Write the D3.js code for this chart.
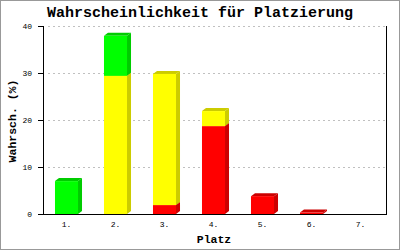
<!DOCTYPE html>
<html>
<head>
<meta charset="utf-8">
<script src="https://cdn.jsdelivr.net/npm/d3@7"></script>
<style>
  body { margin: 0; background: #fff; }
  svg { display: block; }
  text { font-family: "Liberation Mono", "DejaVu Sans Mono", monospace; }
</style>
</head>
<body>
<div id="main"></div>
<script>
// data
var places = ["1.", "2.", "3.", "4.", "5.", "6.", "7."];
var red    = [0, 0, 1.9, 18.7, 3.8, 0.3, 0];
var yellow = [0, 29.4, 27.9, 3.2, 0, 0, 0];
var green  = [7.0, 8.5, 0, 0, 0, 0, 0];
var yTicks = [0, 10, 20, 30, 40];

var w = 400, h = 250;
var plotLeft = 43, plotRight = 386, plotTop = 26, plotBottom = 214;
var depthX = 4, depthY = 3;

var series = [
  {values: red, front: "#ff0000", side: "#cc0000"},
  {values: yellow, front: "#ffff00", side: "#cccc00"},
  {values: green, front: "#00ff00", side: "#00cc00"}
];

var svg = d3.select("#main")
  .append("svg")
  .attr("width", w)
  .attr("height", h);

// frame
svg.append("rect")
  .attr("x", 0.5).attr("y", 0.5)
  .attr("width", w - 1).attr("height", h - 1)
  .attr("fill", "#fff")
  .attr("stroke", "#999");

var x = d3.scaleBand()
  .domain(places)
  .range([plotLeft - 1, plotRight - 1])
  .paddingInner(0.53)
  .paddingOuter(0.265);

var y = d3.scaleLinear()
  .domain([0, 40])
  .range([plotBottom, plotTop]);

// grid
svg.selectAll("line.grid")
  .data(yTicks.filter(function(d) { return d > 0; }))
  .enter()
  .append("line")
  .attr("class", "grid")
  .attr("x1", plotLeft + 5)
  .attr("x2", plotRight - 1)
  .attr("y1", function(d) { return Math.round(y(d)) + 0.5; })
  .attr("y2", function(d) { return Math.round(y(d)) + 0.5; })
  .attr("stroke", "#c0c0c0")
  .attr("stroke-dasharray", "2,3");

// stacked 3d bars
places.forEach(function(p, i) {
  var base = 0;
  series.forEach(function(s) {
    var v = s.values[i];
    if (v <= 0) return;
    var x0 = x(p), x1 = x(p) + x.bandwidth();
    var yb = y(base), yt = y(base + v);
    var g = svg.append("g");
    // side
    g.append("polygon")
      .attr("points", [[x1, yb], [x1 + depthX, yb - depthY], [x1 + depthX, yt - depthY], [x1, yt]].join(" "))
      .attr("fill", s.side);
    // top
    g.append("polygon")
      .attr("points", [[x0, yt], [x0 + depthX, yt - depthY], [x1 + depthX, yt - depthY], [x1, yt]].join(" "))
      .attr("fill", s.side);
    // front
    g.append("rect")
      .attr("x", x0)
      .attr("y", yt)
      .attr("width", x.bandwidth())
      .attr("height", Math.max(yb - yt, 1))
      .attr("fill", s.front);
    base += v;
  });
});

// axes lines
svg.append("line")
  .attr("x1", plotLeft + 0.5).attr("x2", plotLeft + 0.5)
  .attr("y1", plotTop).attr("y2", plotBottom + 1)
  .attr("stroke", "#000");
svg.append("line")
  .attr("x1", plotRight + 0.5).attr("x2", plotRight + 0.5)
  .attr("y1", plotTop).attr("y2", plotBottom + 1)
  .attr("stroke", "#000");
svg.append("line")
  .attr("x1", plotLeft).attr("x2", plotRight + 1)
  .attr("y1", plotBottom + 0.5).attr("y2", plotBottom + 0.5)
  .attr("stroke", "#000");

// y ticks
svg.selectAll("line.ytick")
  .data(yTicks)
  .enter()
  .append("line")
  .attr("class", "ytick")
  .attr("x1", plotLeft - 5).attr("x2", plotLeft)
  .attr("y1", function(d) { return Math.round(y(d)) + 0.5; })
  .attr("y2", function(d) { return Math.round(y(d)) + 0.5; })
  .attr("stroke", "#000");

svg.selectAll("text.ytick")
  .data(yTicks)
  .enter()
  .append("text")
  .attr("class", "ytick")
  .attr("x", plotLeft - 11)
  .attr("y", function(d) { return y(d) + 3; })
  .attr("text-anchor", "end")
  .attr("font-size", 8)
  .text(function(d) { return d; });

svg.selectAll("text.xtick")
  .data(places)
  .enter()
  .append("text")
  .attr("class", "xtick")
  .attr("x", function(d) { return x(d) + x.bandwidth() / 2; })
  .attr("y", 227)
  .attr("text-anchor", "middle")
  .attr("font-size", 8)
  .text(function(d) { return d; });

// titles
svg.append("text")
  .attr("x", 200).attr("y", 17)
  .attr("text-anchor", "middle")
  .attr("font-size", 15)
  .attr("font-weight", "bold")
  .text("Wahrscheinlichkeit für Platzierung");

svg.append("text")
  .attr("x", 214).attr("y", 243)
  .attr("text-anchor", "middle")
  .attr("font-size", 11.5)
  .attr("font-weight", "bold")
  .text("Platz");

svg.append("text")
  .attr("transform", "translate(16,121) rotate(-90)")
  .attr("text-anchor", "middle")
  .attr("font-size", 11.5)
  .attr("font-weight", "bold")
  .text("Wahrsch. (%)");
</script>
</body>
</html>
